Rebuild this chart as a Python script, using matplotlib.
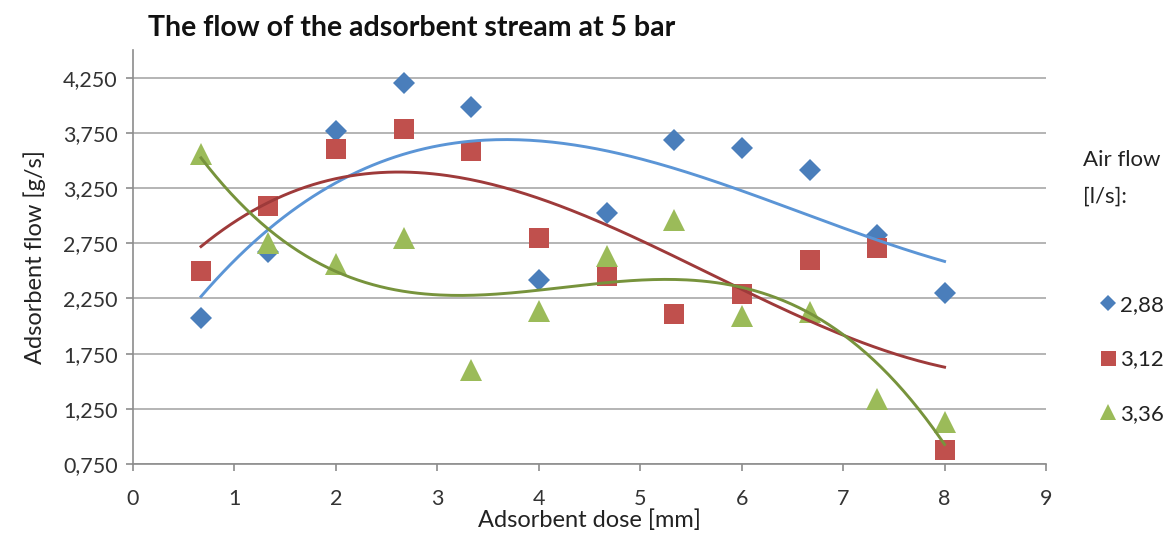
import numpy as np
import matplotlib
matplotlib.use('Agg')
import matplotlib.pyplot as plt
from matplotlib.lines import Line2D

plt.rcParams['font.family'] = ['Lato', 'DejaVu Sans']

# adsorbent dose [mm]
dose = [0.67, 1.33, 2.0, 2.67, 3.33, 4.0, 4.67, 5.33, 6.0, 6.67, 7.33, 8.0]

# adsorbent flow [g/s] for each air flow
flow_288 = [2.07, 2.67, 3.765, 4.20, 3.985, 2.415, 3.02, 3.685, 3.615, 3.41, 2.82, 2.295]
flow_312 = [2.50, 3.09, 3.605, 3.78, 3.585, 2.80, 2.455, 2.11, 2.29, 2.60, 2.71, 0.88]
flow_336 = [3.56, 2.75, 2.56, 2.80, 1.605, 2.14, 2.63, 2.96, 2.09, 2.125, 1.34, 1.13]

labels = ['2,88', '3,12', '3,36']
series = [flow_288, flow_312, flow_336]
markers = ['D', 's', '^']
msizes = [11, 15, 16]
colors = ['#4A7EBB', '#C0504D', '#9BBB59']
trend_colors = ['#5B95D6', '#9E3A3A', '#77933C']

yticks = [0.75, 1.25, 1.75, 2.25, 2.75, 3.25, 3.75, 4.25]

fig = plt.figure(figsize=(11.63, 5.40), dpi=100)
ax = fig.add_axes([0.1144, 0.1407, 0.785, 0.7667])

x = np.array(dose)
xs = np.linspace(x.min(), x.max(), 200)
for vals, mk, ms, c, tc in zip(series, markers, msizes, colors, trend_colors):
    ax.plot(x, vals, linestyle='none', marker=mk, markersize=ms, color=c,
            markeredgewidth=0, zorder=3)
    coef = np.polyfit(x, vals, 3)
    ax.plot(xs, np.polyval(coef, xs), color=tc, linewidth=2.1, zorder=4)

ax.set_xlim(0, 9)
ax.set_ylim(0.75, 4.5)
ax.set_xticks(range(10))
ax.set_yticks(yticks)
ax.set_yticklabels([f'{v:.3f}'.replace('.', ',') for v in yticks])
ax.grid(axis='y', color='#B4B4B4', linewidth=1.4)
ax.set_axisbelow(True)
for side in ['top', 'right']:
    ax.spines[side].set_visible(False)
for side in ['left', 'bottom']:
    ax.spines[side].set_color('#8C8C8C')
    ax.spines[side].set_linewidth(1.2)
ax.tick_params(axis='both', colors='#8C8C8C', length=5, width=1.2,
               labelsize=15.5, labelcolor='#333333')
ax.tick_params(axis='x', pad=13)
ax.tick_params(axis='y', pad=6)

ax.set_xlabel('Adsorbent dose [mm]', fontsize=17, color='#222222', labelpad=0)
ax.set_ylabel('Adsorbent flow [g/s]', fontsize=17, color='#222222', labelpad=12)

fig.text(148 / 1163, 1 - 28 / 540, 'The flow of the adsorbent stream at 5 bar',
         fontsize=20.5, fontweight='bold', color='#111111', va='center', ha='left')

fig.text(1083 / 1163, 1 - 160 / 540, 'Air flow', fontsize=16, color='#222222',
         va='center', ha='left')
fig.text(1083 / 1163, 1 - 197 / 540, '[l/s]:', fontsize=16, color='#222222',
         va='center', ha='left')

handles = [Line2D([], [], linestyle='none', marker=mk, markersize=ms * 0.72,
                  color=c, markeredgewidth=0)
           for mk, ms, c in zip(markers, msizes, colors)]
fig.legend(handles, labels, loc='upper left', bbox_to_anchor=(1090 / 1163, 1 - 284 / 540),
           frameon=False, fontsize=16, labelspacing=1.55, handlelength=0.6,
           handletextpad=0.25, borderpad=0, labelcolor='#222222')

fig.savefig('out.png', dpi=100)
